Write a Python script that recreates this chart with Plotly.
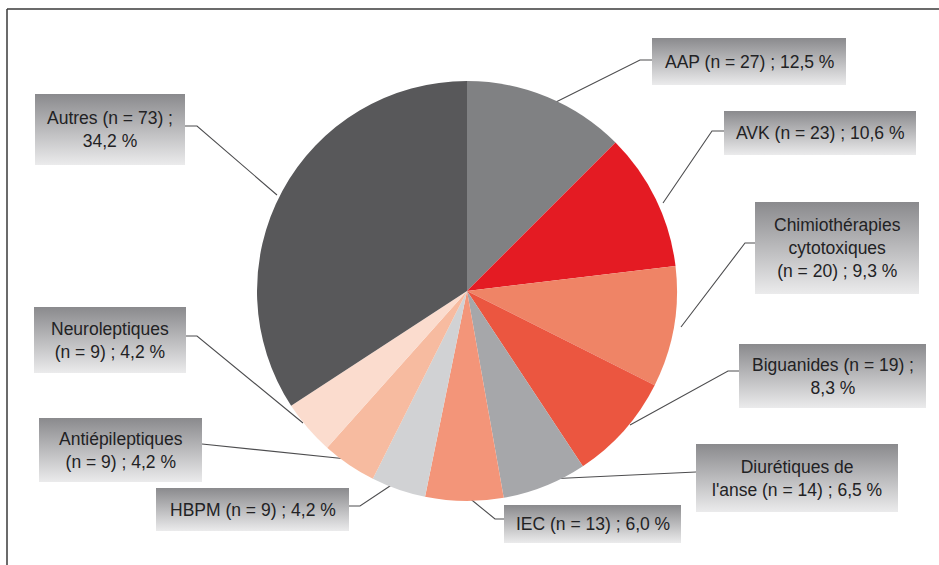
import plotly.graph_objects as go

W, H = 939, 565

# ---- data ----
categories = ["AAP", "AVK", "Chimiothérapies cytotoxiques", "Biguanides",
              "Diurétiques de l'anse", "IEC", "HBPM", "Antiépileptiques",
              "Neuroleptiques", "Autres"]
counts = [27, 23, 20, 19, 14, 13, 9, 9, 9, 73]
percents = [12.5, 10.6, 9.3, 8.3, 6.5, 6.0, 4.2, 4.2, 4.2, 34.2]
label_texts = [
    "AAP (n = 27) ; 12,5 %",
    "AVK (n = 23) ; 10,6 %",
    "Chimiothérapies<br>cytotoxiques<br>(n = 20) ; 9,3 %",
    "Biguanides (n = 19) ;<br>8,3 %",
    "Diurétiques de<br>l'anse (n = 14) ; 6,5 %",
    "IEC (n = 13) ; 6,0 %",
    "HBPM (n = 9) ; 4,2 %",
    "Antiépileptiques<br>(n = 9) ; 4,2 %",
    "Neuroleptiques<br>(n = 9) ; 4,2 %",
    "Autres (n = 73) ;<br>34,2 %",
]
colors = ["#808183", "#E41B23", "#EF8466", "#EB5640", "#A6A7AA",
          "#F39579", "#D1D2D4", "#F7BBA0", "#FBDCCE", "#58585A"]

# ---- layout (pixel positions of label boxes and leader lines) ----
boxes = [
    (652, 38, 846, 85),
    (724, 111, 916, 155),
    (755, 202, 919, 294),
    (739, 344, 926, 408),
    (696, 444, 898, 512),
    (504, 505, 681, 543),
    (156, 488, 349, 531),
    (39, 418, 202, 482),
    (34, 307, 186, 373),
    (35, 94, 185, 165),
]
leaders = [
    [(652, 60), (640, 60), (552, 104)],
    [(724, 131), (712, 131), (663, 203)],
    [(755, 243), (745, 243), (681, 327)],
    [(739, 371), (728, 371), (630, 425)],
    [(696, 472), (547, 479)],
    [(504, 519), (495, 519), (462, 492)],
    [(349, 506), (360, 506), (396, 482)],
    [(202, 444), (212, 445), (347, 459)],
    [(186, 336), (197, 336), (303, 423)],
    [(185, 126), (197, 126), (277, 195)],
]

cx, cy, r = 467, 291, 210

fig = go.Figure()

for (x0, y0, x1, y1) in boxes:
    fig.add_trace(go.Scatter(
        x=[x0, x1, x1, x0, x0], y=[y0, y0, y1, y1, y0],
        mode="lines", line=dict(width=0), fill="toself",
        fillgradient=dict(type="vertical", start=y0, stop=y1,
                          colorscale=[[0, "#8A8A8D"], [1, "#EBEBEC"]]),
        hoverinfo="skip", showlegend=False))

for pts in leaders:
    fig.add_trace(go.Scatter(
        x=[p[0] for p in pts], y=[p[1] for p in pts],
        mode="lines", line=dict(color="#4D4D4F", width=1.1),
        hoverinfo="skip", showlegend=False))

fig.add_trace(go.Pie(
    labels=categories, values=percents, customdata=counts,
    sort=False, direction="clockwise", rotation=0,
    marker=dict(colors=colors, line=dict(width=0)),
    textinfo="none",
    hovertemplate="%{label} (n = %{customdata})<br>%{value} %<extra></extra>",
    showlegend=False,
    domain=dict(x=[(cx - r) / W, (cx + r) / W],
                y=[1 - (cy + r) / H, 1 - (cy - r) / H]),
))

for (x0, y0, x1, y1), t in zip(boxes, label_texts):
    fig.add_annotation(x=(x0 + x1) / 2, y=(y0 + y1) / 2, xref="x", yref="y",
                       text=t, showarrow=False, align="center",
                       font=dict(family="Liberation Sans, Arial, sans-serif",
                                 size=17.5, color="#222224"))

fig.add_shape(type="line", xref="x", yref="y", x0=7, y0=9, x1=W, y1=9,
              line=dict(color="#3A3A3A", width=1.5))
fig.add_shape(type="line", xref="x", yref="y", x0=7, y0=9, x1=7, y1=H,
              line=dict(color="#3A3A3A", width=1.5))

fig.update_layout(
    width=W, height=H,
    margin=dict(l=0, r=0, t=0, b=0),
    paper_bgcolor="white", plot_bgcolor="rgba(0,0,0,0)",
    xaxis=dict(range=[0, W], visible=False, domain=[0, 1], fixedrange=True),
    yaxis=dict(range=[H, 0], visible=False, domain=[0, 1], fixedrange=True),
)

fig.write_html("out.html", config={"displayModeBar": False},
               post_script="document.body.style.margin='0px';document.body.style.overflow='hidden';")
